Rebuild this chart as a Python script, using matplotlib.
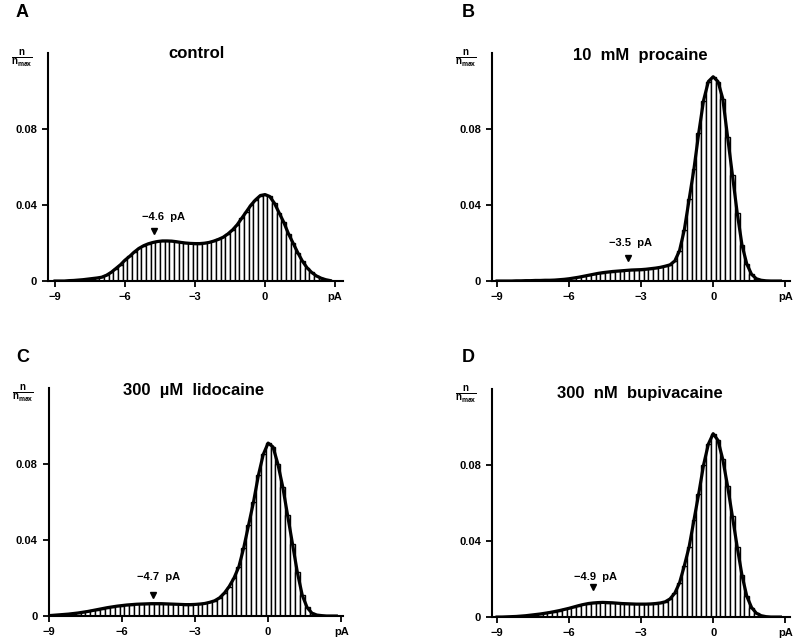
import numpy as np
import matplotlib
matplotlib.use('Agg')
import matplotlib.pyplot as plt

plt.rcParams['font.family'] = ['Liberation Sans', 'DejaVu Sans']
plt.rcParams['font.weight'] = 'bold'
plt.rcParams['mathtext.fontset'] = 'custom'
plt.rcParams['mathtext.rm'] = 'Liberation Sans:bold'
plt.rcParams['mathtext.it'] = 'Liberation Sans:bold'
plt.rcParams['mathtext.bf'] = 'Liberation Sans:bold'

# bin centres, pA (0.2 pA bins)
bins = np.round(np.arange(-9.0, 2.81, 0.2), 1)

control = [
    0, 0, 0, 0.0002, 0.0003, 0.0005, 0.0007, 0.001, 0.0013, 0.0016,
    0.002, 0.003, 0.0045, 0.0065, 0.0085, 0.011, 0.013, 0.0153, 0.0172, 0.0186,
    0.0196, 0.0203, 0.0208, 0.0211, 0.0211, 0.021, 0.0207, 0.0203, 0.02, 0.0198,
    0.0197, 0.0197, 0.0199, 0.0203, 0.021, 0.0219, 0.023, 0.0247, 0.0268, 0.0295,
    0.033, 0.0365, 0.04, 0.0428, 0.045, 0.0455, 0.0445, 0.041, 0.036, 0.031,
    0.025, 0.02, 0.015, 0.0105, 0.007, 0.0045, 0.0027, 0.0015, 0.0007, 0.0002]

procaine = [
    0, 0, 0, 0, 0.0001, 0.0001, 0.0002, 0.0002, 0.0003, 0.0003,
    0.0004, 0.0004, 0.0005, 0.0007, 0.0009, 0.0012, 0.0016, 0.002, 0.0025, 0.003,
    0.0035, 0.004, 0.0044, 0.0047, 0.005, 0.0052, 0.0054, 0.0056, 0.0058, 0.0059,
    0.006, 0.0062, 0.0065, 0.0068, 0.0072, 0.0078, 0.0085, 0.0105, 0.016, 0.027,
    0.043, 0.059, 0.078, 0.095, 0.105, 0.1075, 0.105, 0.096, 0.076, 0.056,
    0.036, 0.019, 0.009, 0.0035, 0.0012, 0.0004, 0.0001, 0, 0, 0]

lidocaine = [
    0.0002, 0.0004, 0.0006, 0.0008, 0.001, 0.0013, 0.0016, 0.002, 0.0024, 0.0029,
    0.0034, 0.0039, 0.0044, 0.0048, 0.0052, 0.0055, 0.0058, 0.006, 0.0062, 0.0063,
    0.0064, 0.0065, 0.0065, 0.0065, 0.0064, 0.0063, 0.0062, 0.0061, 0.006, 0.006,
    0.0061, 0.0063, 0.0066, 0.0072, 0.008, 0.0095, 0.012, 0.0155, 0.02, 0.026,
    0.036, 0.048, 0.06, 0.074, 0.085, 0.091, 0.089, 0.08, 0.068, 0.053,
    0.038, 0.023, 0.011, 0.0045, 0.0015, 0.0005, 0.0002, 0, 0, 0]

bupivacaine = [
    0, 0, 0.0001, 0.0002, 0.0003, 0.0005, 0.0007, 0.001, 0.0013, 0.0016,
    0.002, 0.0024, 0.0029, 0.0034, 0.004, 0.0046, 0.0053, 0.006, 0.0066, 0.0071,
    0.0074, 0.0076, 0.0077, 0.0076, 0.0075, 0.0073, 0.0071, 0.007, 0.0069, 0.0068,
    0.0068, 0.0068, 0.0069, 0.0071, 0.0074, 0.008, 0.0095, 0.0125, 0.018, 0.027,
    0.037, 0.051, 0.065, 0.08, 0.091, 0.0965, 0.093, 0.083, 0.069, 0.053,
    0.037, 0.022, 0.011, 0.005, 0.002, 0.0007, 0.0002, 0, 0, 0]

letters = ['A', 'B', 'C', 'D']
titles = ['control', '10  mM  procaine', '300  \u00b5M  lidocaine', '300  nM  bupivacaine']
series = [control, procaine, lidocaine, bupivacaine]
peak_labels = ['\u22124.6  pA', '\u22123.5  pA', '\u22124.7  pA', '\u22124.9  pA']
peak_x = [-4.76, -3.54, -4.73, -5.0]
peak_y = [0.0263, 0.0121, 0.011, 0.0158]
label_x = [-4.37, -3.46, -4.49, -4.92]
label_y = [0.0337, 0.020, 0.0205, 0.021]

rects = [
    [0.0604, 0.5616, 0.371, 0.3557],
    [0.6189, 0.5616, 0.3748, 0.3557],
    [0.0616, 0.039, 0.370, 0.3557],
    [0.6189, 0.0374, 0.3748, 0.3557],
]
xlims = [(-9.3, 3.34), (-9.21, 3.2), (-9.0, 3.08), (-9.21, 3.2)]
title_pos = [(0.505, 0.996), (0.497, 0.991), (0.493, 0.991), (0.497, 0.982)]
letter_pos = [(0.028, 0.981), (0.589, 0.981), (0.029, 0.443), (0.589, 0.4415)]

fig = plt.figure(figsize=(7.95, 6.41), dpi=100)

for i in range(4):
    ax = fig.add_axes(rects[i])
    y = np.array(series[i])
    ax.bar(bins, y, width=0.2, facecolor='white', edgecolor='black',
           linewidth=1.0, zorder=2)
    # thick envelope through the bar tops
    ax.plot(bins, y, color='black', linewidth=2.3, solid_joinstyle='round',
            zorder=3)

    ax.set_xlim(*xlims[i])
    ax.set_ylim(0, 0.12)
    for s in ['top', 'right']:
        ax.spines[s].set_visible(False)
    ax.spines['left'].set_linewidth(1.5)
    ax.spines['bottom'].set_linewidth(1.5)

    ax.set_yticks([0, 0.04, 0.08])
    ax.set_yticklabels(['0', '0.04', '0.08'])
    ax.set_xticks([-9, -6, -3, 0, 3])
    ax.set_xticklabels(['\u22129', '\u22126', '\u22123', '0', 'pA'])
    ax.tick_params(direction='out', length=4, width=1.3, labelsize=8, pad=4)
    for lab in ax.get_xticklabels() + ax.get_yticklabels():
        lab.set_fontweight('bold')

    ax.text(title_pos[i][0], title_pos[i][1], titles[i], transform=ax.transAxes,
            ha='center', va='center', fontsize=12, fontweight='bold')
    ax.text(-0.088, 0.975, r'$\frac{\mathrm{n}}{\mathrm{n_{max}}}$',
            transform=ax.transAxes, ha='center', va='center', fontsize=10)

    ax.plot([peak_x[i]], [peak_y[i]], marker='v', color='black',
            markersize=4.5, linestyle='none', zorder=4)
    ax.text(label_x[i], label_y[i], peak_labels[i], ha='center', va='center',
            fontsize=8, fontweight='bold')

    fig.text(letter_pos[i][0], letter_pos[i][1], letters[i], ha='center',
             va='center', fontsize=13, fontweight='bold')

fig.savefig('out.png', dpi=100)
